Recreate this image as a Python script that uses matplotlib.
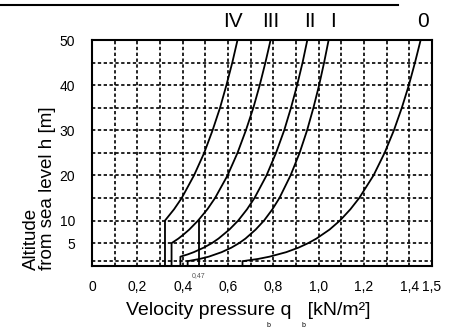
import numpy as np
import matplotlib
matplotlib.use("Agg")
import matplotlib.pyplot as plt
from matplotlib.lines import Line2D

plt.rcParams['font.family'] = ['Liberation Sans', 'DejaVu Sans']

# altitude h [m] and velocity pressure q [kN/m2]
h_IV = [0, 10, 12.5, 15, 20, 25, 30, 35, 40, 45, 50]
q_IV = [0.322, 0.322, 0.362, 0.396, 0.450, 0.495, 0.532, 0.565, 0.593, 0.619, 0.642]

h_III = [0, 5, 6, 7, 8, 10, 12.5, 15, 20, 25, 30, 35, 40, 45, 50]
q_III = [0.351, 0.351, 0.381, 0.406, 0.429, 0.468, 0.509, 0.543, 0.598, 0.642, 0.679,
         0.712, 0.740, 0.765, 0.788]

h_II = [0, 2, 2.5, 3, 4, 5, 6, 8, 10, 12.5, 15, 20, 25, 30, 35, 40, 45, 50]
q_II = [0.390, 0.390, 0.422, 0.449, 0.493, 0.529, 0.558, 0.606, 0.645, 0.684, 0.717,
        0.770, 0.812, 0.848, 0.878, 0.905, 0.929, 0.950]

h_I = [0, 1, 1.5, 2, 3, 4, 5, 6, 8, 10, 12.5, 15, 20, 25, 30, 35, 40, 45, 50]
q_I = [0.422, 0.422, 0.475, 0.515, 0.572, 0.615, 0.649, 0.677, 0.722, 0.759, 0.796,
       0.827, 0.876, 0.916, 0.949, 0.977, 1.002, 1.024, 1.044]

h_0 = [0, 1, 1.5, 2, 3, 4, 5, 6, 8, 10, 12.5, 15, 20, 25, 30, 35, 40, 45, 50]
q_0 = [0.664, 0.664, 0.733, 0.783, 0.857, 0.911, 0.954, 0.990, 1.048, 1.094, 1.140,
       1.179, 1.242, 1.291, 1.332, 1.367, 1.398, 1.425, 1.450]

curves = [("IV", q_IV, h_IV), ("III", q_III, h_III), ("II", q_II, h_II),
          ("I", q_I, h_I), ("0", q_0, h_0)]
label_q = [0.62, 0.79, 0.96, 1.065, 1.46]

mark_q = 0.47
mark_h = 10

x_ticks = [0, 0.2, 0.4, 0.6, 0.8, 1.0, 1.2, 1.4, 1.5]
x_labels = ["0", "0,2", "0,4", "0,6", "0,8", "1,0", "1,2", "1,4", "1,5"]
y_ticks = [5, 10, 20, 30, 40, 50]
grid_q = [0.1, 0.2, 0.3, 0.4, 0.5, 0.6, 0.7, 0.8, 0.9, 1.0, 1.1, 1.2, 1.3, 1.4]
grid_h = [1, 5, 10, 15, 20, 25, 30, 35, 40, 45]

fig = plt.figure(figsize=(4.49, 3.29), dpi=100)
ax = fig.add_axes([0.2049, 0.1924, 0.7572, 0.686])

ax.set_xlim(0, 1.5)
ax.set_ylim(0, 50)

# dashed grid
for g in grid_q:
    ax.axvline(g, color='black', linestyle=(0, (2, 1.5)), linewidth=1.2, zorder=1)
for g in grid_h:
    ax.axhline(g, color='black', linestyle=(0, (2, 1.5)), linewidth=1.2, zorder=1)

for name, q, h in curves:
    ax.plot(q, h, color='black', linewidth=1.3, solid_joinstyle='round', zorder=3)
ax.plot([mark_q, mark_q], [0, mark_h], color='black', linewidth=1.3, zorder=3)

ax.set_xticks(x_ticks)
ax.set_xticklabels(x_labels)
ax.set_yticks(y_ticks)
ax.tick_params(which='both', length=0, labelsize=10)
ax.tick_params(axis='x', pad=10)
ax.tick_params(axis='y', pad=12)
for s in ax.spines.values():
    s.set_linewidth(1.5)

ax.text(mark_q, -1.5, "0,47", fontsize=5, color='#555555', ha='center', va='top')

for (name, q, h), lq in zip(curves, label_q):
    ax.text(lq, 52, name, fontsize=15, ha='center', va='bottom')

fig.text(0.553, 0.057, "Velocity pressure q   [kN/m²]", fontsize=14, ha='center', va='center')
fig.text(0.597, 0.012, "b", fontsize=5, ha='center', va='center')
fig.text(0.675, 0.012, "b", fontsize=5, ha='center', va='center')

fig.text(0.088, 0.18, "Altitude\nfrom sea level h [m]", fontsize=13.5, rotation=90,
         ha='center', va='bottom', multialignment='left', linespacing=0.95)

fig.add_artist(Line2D([0, 0.887], [0.985, 0.985], color='black', linewidth=1.5))

fig.savefig("out.png", dpi=100)
